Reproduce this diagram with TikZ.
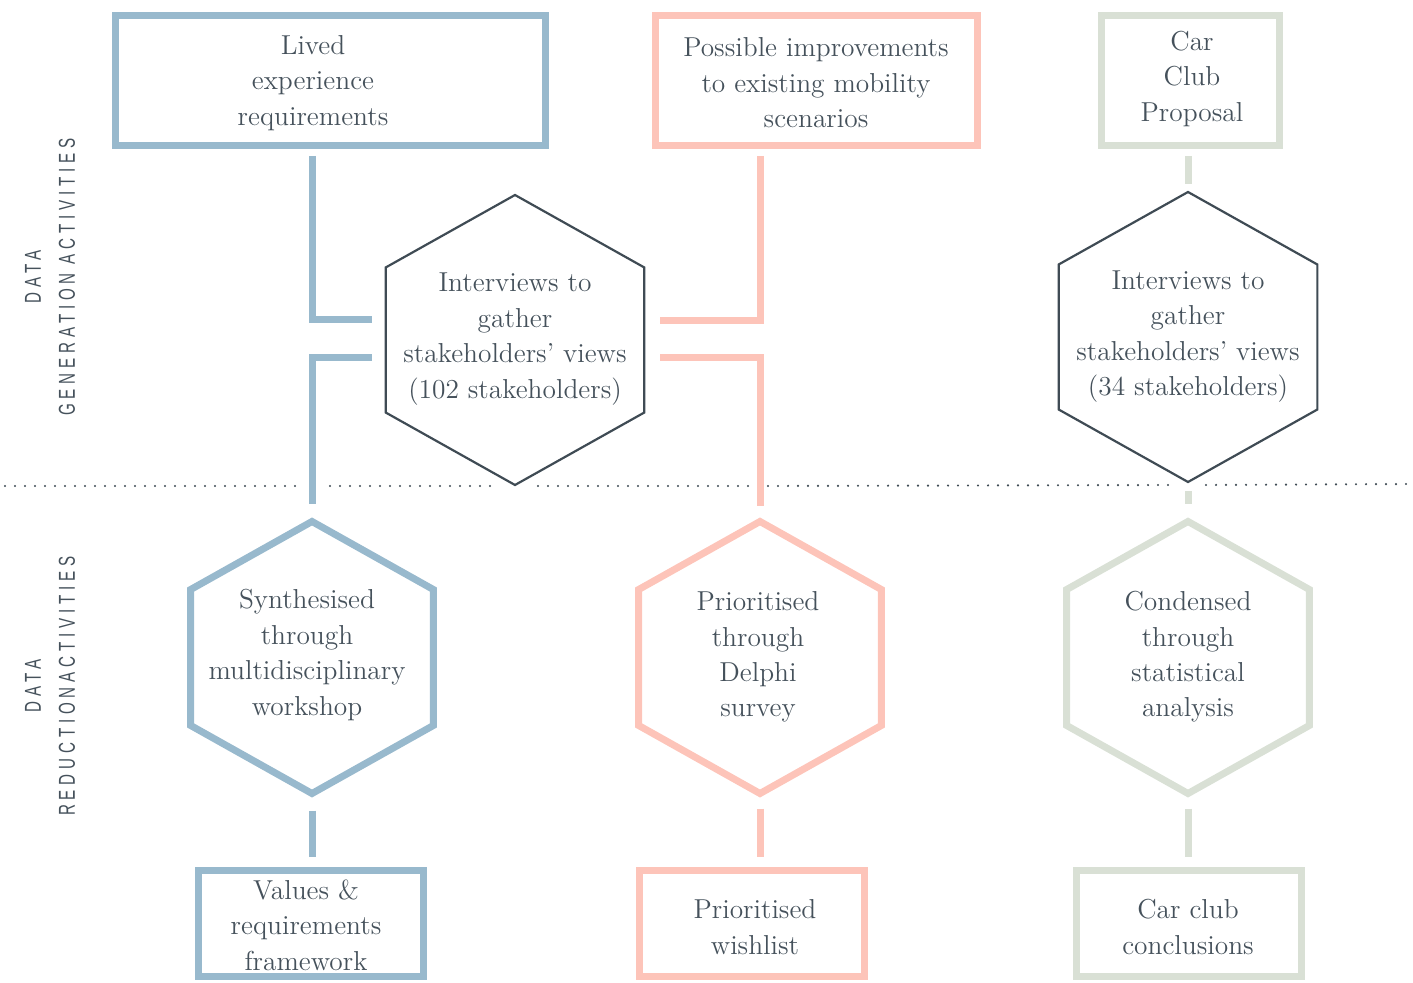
\documentclass[tikz,border=0pt]{standalone}
\usepackage{fontspec}
\newfontfamily\sidefont[FakeStretch=0.66,LetterSpace=21]{Liberation Sans}
\usetikzlibrary{shapes.geometric}

\definecolor{dkslate}{HTML}{3F4B54}
\definecolor{txtgray}{HTML}{45515B}
\definecolor{pblue}{HTML}{98B9CD}
\definecolor{ppink}{HTML}{FDC4B9}
\definecolor{psage}{HTML}{D9E0D5}

\tikzset{
  box/.style={draw, line width=3.5pt, rectangle, inner sep=0pt},
  hexbig/.style={draw=dkslate, line width=1.1pt, regular polygon, regular polygon sides=6,
    shape border rotate=90, minimum size=145pt, inner sep=0pt, xscale=1.03, transform shape},
  hexsmall/.style={draw, line width=3.5pt, regular polygon, regular polygon sides=6,
    shape border rotate=90, minimum size=136pt, inner sep=0pt, xscale=1.03, transform shape},
  txt/.style={align=center, text=txtgray, font=\fontsize{13.7}{17.7}\selectfont},
  side/.style={align=center, text=txtgray, rotate=90, font=\sidefont\fontsize{11.5}{17}\selectfont},
  link/.style={line width=3.5pt},
  dots/.style={draw=dkslate, line width=1.2pt, line cap=round, dash pattern=on 0pt off 5pt}
}

\begin{document}
\begin{tikzpicture}[x=0.5pt, y=-0.5pt]
		\useasboundingbox (0,0) rectangle (1413,983);

		% side labels
		\node[side] (genlbl) at (50,277) {DATA\\GENERATION ACTIVITIES};
		\node[side] (redlbl) at (50,686) {DATA\\REDUCTIONACTIVITIES};

		% top row boxes
		\node[box, draw=pblue, minimum width=215pt, minimum height=65pt] (lived) at (330.5,80.5) {};
		\node[txt] (lived-t) at (313,83) {Lived\\experience\\requirements};
		\node[box, draw=ppink, minimum width=161pt, minimum height=65pt] (improve) at (816,80.5) {};
		\node[txt] (improve-t) at (816,83) {Possible improvements\\to existing mobility\\scenarios};
		\node[box, draw=psage, minimum width=89pt, minimum height=65pt] (carclub) at (1190,80.5) {};
		\node[txt] (carclub-t) at (1192,79) {Car\\Club\\Proposal};

		% interview hexagons
		\node[hexbig] (int1) at (515,340) {};
		\node[txt] (int1-t) at (515,339) {Interviews to\\gather\\stakeholders' views\\(102 stakeholders)};
		\node[hexbig] (int2) at (1188,337) {};
		\node[txt] (int2-t) at (1188,336.5) {Interviews to\\gather\\stakeholders' views\\(34 stakeholders)};

		% reduction hexagons
		\node[hexsmall, draw=pblue] (synth) at (312,657.5) {};
		\node[txt] (synth-t) at (307,655) {Synthesised\\through\\multidisciplinary\\workshop};
		\node[hexsmall, draw=ppink] (prio) at (760,657.5) {};
		\node[txt] (prio-t) at (758,657) {Prioritised\\through\\Delphi\\survey};
		\node[hexsmall, draw=psage] (cond) at (1188,657.5) {};
		\node[txt] (cond-t) at (1188,657) {Condensed\\through\\statistical\\analysis};

		% bottom boxes
		\node[box, draw=pblue, minimum width=112.5pt, minimum height=53pt] (values) at (311,923) {};
		\node[txt] (values-t) at (306,925) {Values \&\\requirements\\framework};
		\node[box, draw=ppink, minimum width=112.5pt, minimum height=53pt] (wish) at (752,923) {};
		\node[txt] (wish-t) at (755,927) {Prioritised\\wishlist};
		\node[box, draw=psage, minimum width=112.5pt, minimum height=53pt] (concl) at (1189,923) {};
		\node[txt] (concl-t) at (1188,927) {Car club\\conclusions};

		% elbow ends next to the first hexagon
		\coordinate (bU) at (372,320);
		\coordinate (bL) at (372,358);
		\coordinate (pU) at (660,321);
		\coordinate (pL) at (660,358);

		% connectors
		\draw[link, pblue, shorten <=3.5pt] (lived.south -| synth.north) |- (bU);
		\draw[link, pblue, shorten >=6.5pt] (bL) -| (synth.north);
		\draw[link, ppink, shorten <=3.5pt] (improve.south -| prio.north) |- (pU);
		\draw[link, ppink, shorten >=5.5pt] (pL) -| (prio.north);
		\draw[link, psage, shorten <=3.5pt, shorten >=3.5pt] (carclub.south -| int2.north) -- (int2.north);
		\draw[link, psage, shorten <=4pt, shorten >=6.5pt] (int2.south) -- (cond.north);
		\draw[link, pblue, shorten <=6.5pt, shorten >=5pt] (synth.south) -- (values.north -| synth.south);
		\draw[link, ppink, shorten <=5.5pt, shorten >=5pt] (prio.south) -- (wish.north -| prio.south);
		\draw[link, psage, shorten <=5.5pt, shorten >=5pt] (cond.south) -- (concl.north -| cond.south);

		% divider
		\draw[dots] (5,486) -- (303,486);
		\draw[dots] (330,486) -- (492,486);
		\draw[dots] (538,486) -- (750,486);
		\draw[dots] (768,486) -- (1168,485);
		\draw[dots] (1206,485) -- (1410,484);

	\end{tikzpicture}
\end{document}
